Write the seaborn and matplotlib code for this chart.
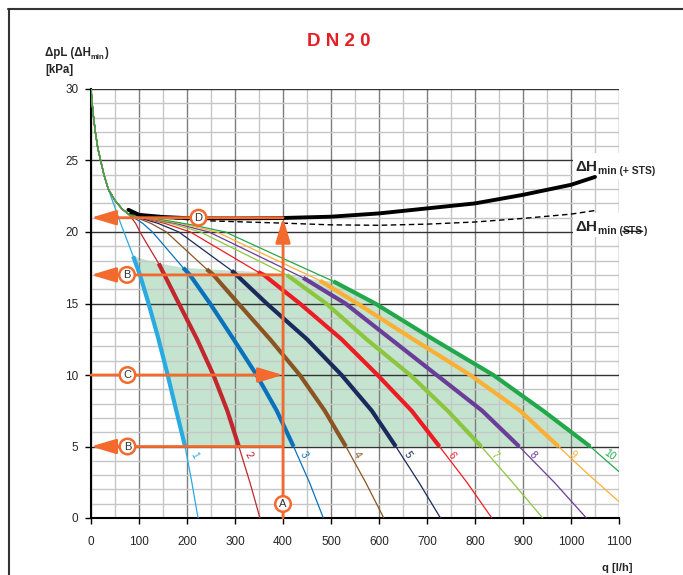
import numpy as np
import pandas as pd
import matplotlib
matplotlib.use("Agg")
import matplotlib.pyplot as plt
import seaborn as sns
from matplotlib.lines import Line2D
from matplotlib.patches import Rectangle
from matplotlib.ticker import MultipleLocator

sns.set_style("white")
plt.rcParams['font.family'] = ['Liberation Sans', 'DejaVu Sans']

# ---------------- data ----------------
head_q = [0, 4, 9, 14, 20, 27, 36]
head_dp = [30.0, 28.4, 27.0, 25.9, 25.0, 24.0, 23.0]
shared_q = [50, 65, 80]
shared_dp = [22.2, 21.6, 21.2]

q1 = [50, 64, 88, 102, 119, 140, 159, 177, 196, 210, 223]
dp1 = [21.7, 20.4, 18.3, 17.0, 15.1, 12.6, 10.1, 7.6, 5.0, 2.5, 0.0]
q2 = [93, 102, 116, 141, 153, 183, 221, 255, 284, 308, 331, 352]
dp2 = [20.6, 20.0, 19.2, 17.8, 17.0, 15.0, 12.5, 10.0, 7.5, 5.0, 2.5, 0.0]
q3 = [108, 128, 192, 206, 248, 297, 345, 387, 422, 455, 484]
dp3 = [20.6, 20.0, 17.5, 17.0, 15.0, 12.5, 10.0, 7.5, 5.0, 2.5, 0.0]
q4 = [125, 157, 241, 255, 307, 373, 435, 487, 531, 572, 610]
dp4 = [20.6, 20.0, 17.4, 17.0, 15.0, 12.5, 10.0, 7.5, 5.0, 2.5, 0.0]
q5 = [140, 183, 293, 303, 366, 450, 522, 585, 635, 683, 728]
dp5 = [20.6, 20.0, 17.3, 17.0, 15.0, 12.5, 10.0, 7.5, 5.0, 2.5, 0.0]
q6 = [154, 207, 348, 360, 435, 522, 597, 668, 726, 783, 835]
dp6 = [20.6, 20.0, 17.2, 17.0, 15.0, 12.5, 10.0, 7.5, 5.0, 2.5, 0.0]
q7 = [166, 228, 408, 490, 574, 665, 743, 813, 878, 941]
dp7 = [20.6, 20.0, 17.0, 15.0, 12.5, 10.0, 7.5, 5.0, 2.5, 0.0]
q8 = [176, 246, 442, 530, 625, 720, 815, 892, 965, 1032]
dp8 = [20.6, 20.0, 16.8, 15.0, 12.5, 10.0, 7.5, 5.0, 2.5, 0.0]
q9 = [186, 262, 477, 555, 671, 790, 894, 974, 1036, 1100]
dp9 = [20.6, 20.0, 16.6, 15.0, 12.5, 10.0, 7.5, 5.0, 3.05, 1.14]
q10 = [150, 210, 280, 400, 505, 592, 713, 838, 942, 1040, 1100]
dp10 = [20.85, 20.5, 20.0, 18.15, 16.55, 15.0, 12.5, 10.0, 7.5, 5.0, 3.24]

# pressure where the bold (working range) part of each curve begins
thick_top = [18.3, 17.8, 17.5, 17.4, 17.3, 17.2, 17.0, 16.8, 16.6, 16.55]
thick_bottom = 5.0

curve_names = ['1', '2', '3', '4', '5', '6', '7', '8', '9', '10']
curve_colors = ['#29abe2', '#c1272d', '#0a72bb', '#8b5523', '#1b2a5c',
                '#ed1c24', '#8cc63f', '#6a3d98', '#fbb034', '#22a84b']
label_rot = [-62, -60, -58, -58, -56, -53, -48, -46, -42, -36]

sts_q = [78, 100, 150, 200, 300, 400, 500, 600, 700, 800, 900, 1000, 1050]
sts_dp = [21.55, 21.2, 21.05, 20.97, 20.95, 20.98, 21.07, 21.3, 21.65, 22.0, 22.6, 23.3, 23.85]
nosts_q = [80, 150, 227, 400, 500, 600, 700, 800, 900, 1000, 1050]
nosts_dp = [21.3, 21.0, 20.8, 20.62, 20.5, 20.47, 20.55, 20.7, 20.95, 21.25, 21.5]

ex_q = 400          # example flow A
ex_dpD = 21.0       # D
ex_dpB1 = 17.0      # B upper
ex_dpC = 10.0       # C
ex_dpB2 = 5.0       # B lower

ORANGE = '#f26a2e'

# ---------------- figure ----------------
fig = plt.figure(figsize=(6.83, 5.75), dpi=100)
ax = fig.add_axes([91 / 683, 57 / 575, 528 / 683, 429 / 575])

curves = []
for i, (q, dp) in enumerate(zip([q1, q2, q3, q4, q5, q6, q7, q8, q9, q10],
                                [dp1, dp2, dp3, dp4, dp5, dp6, dp7, dp8, dp9, dp10])):
    if i == 0:
        qq = head_q + q
        dd = head_dp + dp
    else:
        qq = head_q + shared_q + q
        dd = head_dp + shared_dp + dp
    curves.append(pd.DataFrame({'q': qq, 'dp': dd}))

# green working area polygon built from the curves
tops = []
for i, df in enumerate(curves):
    m = (df.dp <= thick_top[i] + 1e-9) & (df.dp >= thick_bottom - 1e-9)
    tops.append(df[m])
poly_x = [t.q.iloc[0] for t in tops] + list(tops[-1].q.iloc[1:]) + list(tops[0].q.iloc[::-1])
poly_y = [t.dp.iloc[0] for t in tops] + list(tops[-1].dp.iloc[1:]) + list(tops[0].dp.iloc[::-1])
ax.fill(poly_x, poly_y, color='#c4e4cf', zorder=0.2, lw=0)

for i, df in enumerate(curves):
    sns.lineplot(data=df, x='q', y='dp', ax=ax, sort=False, estimator=None,
                 color=curve_colors[i], linewidth=0.9, zorder=3)
    sns.lineplot(data=tops[i], x='q', y='dp', ax=ax, sort=False, estimator=None,
                 color=curve_colors[i], linewidth=3.0, zorder=4, solid_capstyle='butt')
    xl = np.interp(4.55, df.dp.values[::-1], df.q.values[::-1])
    off = 9 if curve_names[i] == '10' else 5.5
    ax.annotate(curve_names[i], xy=(xl, 4.55), xytext=(off, -1.5), textcoords='offset points',
                ha='center', va='center', rotation=label_rot[i], rotation_mode='anchor',
                color=curve_colors[i], fontsize=7.5, zorder=6)

sns.lineplot(x=sts_q, y=sts_dp, ax=ax, sort=False, estimator=None, color='black',
             linewidth=2.8, zorder=5)
sns.lineplot(x=nosts_q, y=nosts_dp, ax=ax, sort=False, estimator=None, color='black',
             linewidth=1.0, zorder=5)
ax.lines[-1].set_dashes([4, 2.5])

# axes styling
ax.set_xlim(0, 1100)
ax.set_ylim(0, 30)
ax.xaxis.set_major_locator(MultipleLocator(100))
ax.xaxis.set_minor_locator(MultipleLocator(50))
ax.yaxis.set_major_locator(MultipleLocator(5))
ax.yaxis.set_minor_locator(MultipleLocator(1))
ax.set_axisbelow(True)
ax.grid(which='minor', color='#c6c6c6', lw=1.0)
ax.grid(which='major', axis='x', color='#7d7d7d', lw=1.0)
ax.grid(which='major', axis='y', color='#333333', lw=1.0)
ax.tick_params(which='minor', length=0)
ax.tick_params(which='major', length=4, width=1, direction='out', color='black',
               labelsize=8.5, pad=5, left=True, bottom=True)
ax.tick_params(axis='x', pad=9)
for s in ['top', 'right']:
    ax.spines[s].set_visible(False)
for s in ['left', 'bottom']:
    ax.spines[s].set_color('black')
    ax.spines[s].set_linewidth(1.5)
ax.set_xlabel('')
ax.set_ylabel('')

# orange example construction
def arrow(x0, y0, x1, y1):
    ax.annotate('', xy=(x1, y1), xytext=(x0, y0),
                arrowprops=dict(arrowstyle='-|>,head_length=1.5,head_width=0.45',
                                color=ORANGE, lw=2.0, shrinkA=0, shrinkB=0),
                zorder=8, annotation_clip=False)

arrow(ex_q, 0, ex_q, ex_dpD)
arrow(ex_q, ex_dpD, 0, ex_dpD)
arrow(ex_q, ex_dpB1, 0, ex_dpB1)
arrow(0, ex_dpC, ex_q, ex_dpC)
arrow(ex_q, ex_dpB2, 0, ex_dpB2)

def circ(x, y, s):
    ax.text(x, y, s, ha='center', va='center', fontsize=8, color='#333333', zorder=10,
            bbox=dict(boxstyle='circle,pad=0.25', fc='white', ec=ORANGE, lw=1.8))

circ(224, ex_dpD, 'D')
circ(75, ex_dpB1, 'B')
circ(76, ex_dpC, 'C')
circ(76, ex_dpB2, 'B')
circ(ex_q, 0.98, 'A')

# right-hand labels on white backgrounds
ax.add_patch(Rectangle((1004, 23.7), 160, 1.8, fc='white', ec='none', zorder=4.5, clip_on=False))
ax.add_patch(Rectangle((1004, 19.65), 160, 1.65, fc='white', ec='none', zorder=4.5, clip_on=False))

t1 = ax.text(1010, 24.3, 'ΔH', fontsize=11, weight='bold', va='baseline', ha='left',
             clip_on=False, zorder=7)
ax.annotate('min (+ STS)', xy=(1, 0), xycoords=t1, va='baseline', ha='left',
            fontsize=7.5, weight='bold', zorder=7, annotation_clip=False)

t3 = ax.text(1010, 20.05, 'ΔH', fontsize=11, weight='bold', va='baseline', ha='left',
             clip_on=False, zorder=7)
t4 = ax.annotate('min (', xy=(1, 0), xycoords=t3, va='baseline', ha='left',
                 fontsize=7.5, weight='bold', zorder=7, annotation_clip=False)
t5 = ax.annotate('STS', xy=(1, 0), xycoords=t4, va='bottom', ha='left',
                 fontsize=7.5, weight='bold', zorder=7, annotation_clip=False)
t6 = ax.annotate(')', xy=(1, 0), xycoords=t5, va='bottom', ha='left',
                 fontsize=7.5, weight='bold', zorder=7, annotation_clip=False)
ax.annotate('', xy=(1.0, 0.5), xycoords=t5, xytext=(0.0, 0.5), textcoords=t5,
            arrowprops=dict(arrowstyle='-', color='black', lw=0.8, shrinkA=0, shrinkB=0),
            zorder=9, annotation_clip=False)

# axis titles
ty = fig.text(45 / 683, 1 - 56 / 575, 'ΔpL (ΔH', fontsize=8.3, weight='bold',
              va='baseline', ha='left')
ymin = ax.annotate('min', xy=(1, 0), xycoords=ty, va='baseline', ha='left',
                   fontsize=5.5, weight='bold', annotation_clip=False)
ax.annotate(')', xy=(1, 0), xycoords=(ymin, ty), va='bottom', ha='left',
            fontsize=8.3, weight='bold', annotation_clip=False)
fig.text(45 / 683, 1 - 73 / 575, '[kPa]', fontsize=8.3, weight='bold', va='baseline', ha='left')

fig.text(632 / 683, 1 - 568 / 575, 'q [l/h]', fontsize=8, weight='bold', va='center', ha='right')
fig.text(339 / 683, 1 - 41 / 575, 'D N 2 0', fontsize=13.5, weight='bold', color='#e31e24',
         va='center', ha='center')

# outer frame lines
fig.add_artist(Line2D([8 / 683, 1], [1 - 8.5 / 575] * 2, transform=fig.transFigure,
                      color='#333333', lw=1.5))
fig.add_artist(Line2D([8.5 / 683] * 2, [0, 1 - 8.5 / 575], transform=fig.transFigure,
                      color='#333333', lw=1.5))

fig.savefig('out.png', dpi=100)
